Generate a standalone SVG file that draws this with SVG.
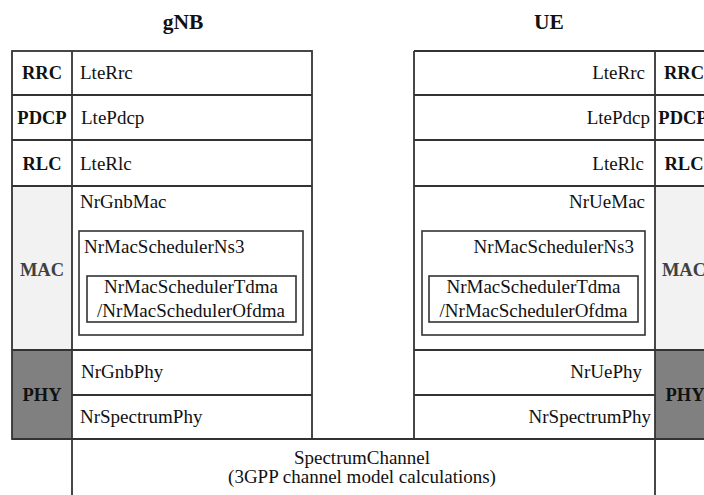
<svg xmlns="http://www.w3.org/2000/svg" width="704" height="495" viewBox="0 0 704 495">
<style>
text{font-family:"Liberation Serif","Times New Roman",serif;fill:#111}
.t{font-size:19px}
.b{font-size:18.5px;font-weight:bold}
.h{font-size:21.5px;font-weight:bold}
.m{text-anchor:middle}
.e{text-anchor:end}
.ln{stroke:#333;stroke-width:1.8;fill:none}
.bx{stroke:#333;stroke-width:1.6;fill:none}
</style>
<rect width="704" height="495" fill="#fff"/>
<g id="titles">
<text class="h m" x="183" y="29">gNB</text>
<text class="h m" x="549" y="29">UE</text>
</g>
<g id="gnb">
<rect x="12" y="186" width="60" height="164" fill="#f2f2f2"/>
<rect x="12" y="350" width="60" height="89" fill="#808080"/>
<rect class="ln" x="12" y="51" width="300" height="388"/>
<line class="ln" x1="12" y1="95" x2="312" y2="95"/>
<line class="ln" x1="12" y1="140" x2="312" y2="140"/>
<line class="ln" x1="12" y1="186" x2="312" y2="186"/>
<line class="ln" x1="12" y1="350" x2="312" y2="350"/>
<line class="ln" x1="72" y1="395" x2="312" y2="395"/>
<text class="b m" x="42" y="79">RRC</text>
<text class="b m" x="42" y="124">PDCP</text>
<text class="b m" x="42" y="170">RLC</text>
<text class="b m" x="42" y="276" style="fill:#404040">MAC</text>
<text class="b m" x="42" y="401">PHY</text>
<text class="t" x="80" y="79">LteRrc</text>
<text class="t" x="81" y="124">LtePdcp</text>
<text class="t" x="80" y="170">LteRlc</text>
<text class="t" x="80" y="208">NrGnbMac</text>
<rect class="bx" x="79" y="231" width="224" height="104"/>
<text class="t" x="84" y="253">NrMacSchedulerNs3</text>
<rect class="bx" x="87" y="276" width="209" height="46"/>
<text class="t m" x="191" y="293">NrMacSchedulerTdma</text>
<text class="t m" x="191" y="316.5">/NrMacSchedulerOfdma</text>
<text class="t" x="81" y="378">NrGnbPhy</text>
<text class="t" x="80" y="423">NrSpectrumPhy</text>
</g>
<g id="ue">
<rect x="655" y="186" width="60" height="164" fill="#f2f2f2"/>
<rect x="655" y="350" width="60" height="89" fill="#808080"/>
<line class="ln" x1="414" y1="51" x2="704" y2="51"/>
<line class="ln" x1="414" y1="51" x2="414" y2="439"/>
<line class="ln" x1="414" y1="95" x2="704" y2="95"/>
<line class="ln" x1="414" y1="140" x2="704" y2="140"/>
<line class="ln" x1="414" y1="186" x2="704" y2="186"/>
<line class="ln" x1="414" y1="350" x2="704" y2="350"/>
<line class="ln" x1="414" y1="395" x2="655" y2="395"/>
<text class="b m" x="684" y="79">RRC</text>
<text class="b m" x="683" y="124">PDCP</text>
<text class="b m" x="684" y="170">RLC</text>
<text class="b m" x="684" y="276" style="fill:#404040">MAC</text>
<text class="b m" x="685" y="401">PHY</text>
<text class="t e" x="645" y="79">LteRrc</text>
<text class="t e" x="650" y="124">LtePdcp</text>
<text class="t e" x="644" y="170">LteRlc</text>
<text class="t e" x="645" y="208">NrUeMac</text>
<rect class="bx" x="422" y="231" width="223" height="104"/>
<text class="t e" x="634" y="253">NrMacSchedulerNs3</text>
<rect class="bx" x="429" y="276" width="209" height="46"/>
<text class="t m" x="533.5" y="293">NrMacSchedulerTdma</text>
<text class="t m" x="533.5" y="316.5">/NrMacSchedulerOfdma</text>
<text class="t e" x="642" y="378">NrUePhy</text>
<text class="t e" x="651" y="423">NrSpectrumPhy</text>
</g>
<g id="channel">
<line class="ln" x1="12" y1="439" x2="704" y2="439"/>
<text class="t m" x="362" y="464">SpectrumChannel</text>
<text class="t m" x="362" y="483">(3GPP channel model calculations)</text>
</g>
<g id="connectors">
<line class="ln" x1="72" y1="51" x2="72" y2="495"/>
<line class="ln" x1="655" y1="51" x2="655" y2="495"/>
</g>
</svg>
